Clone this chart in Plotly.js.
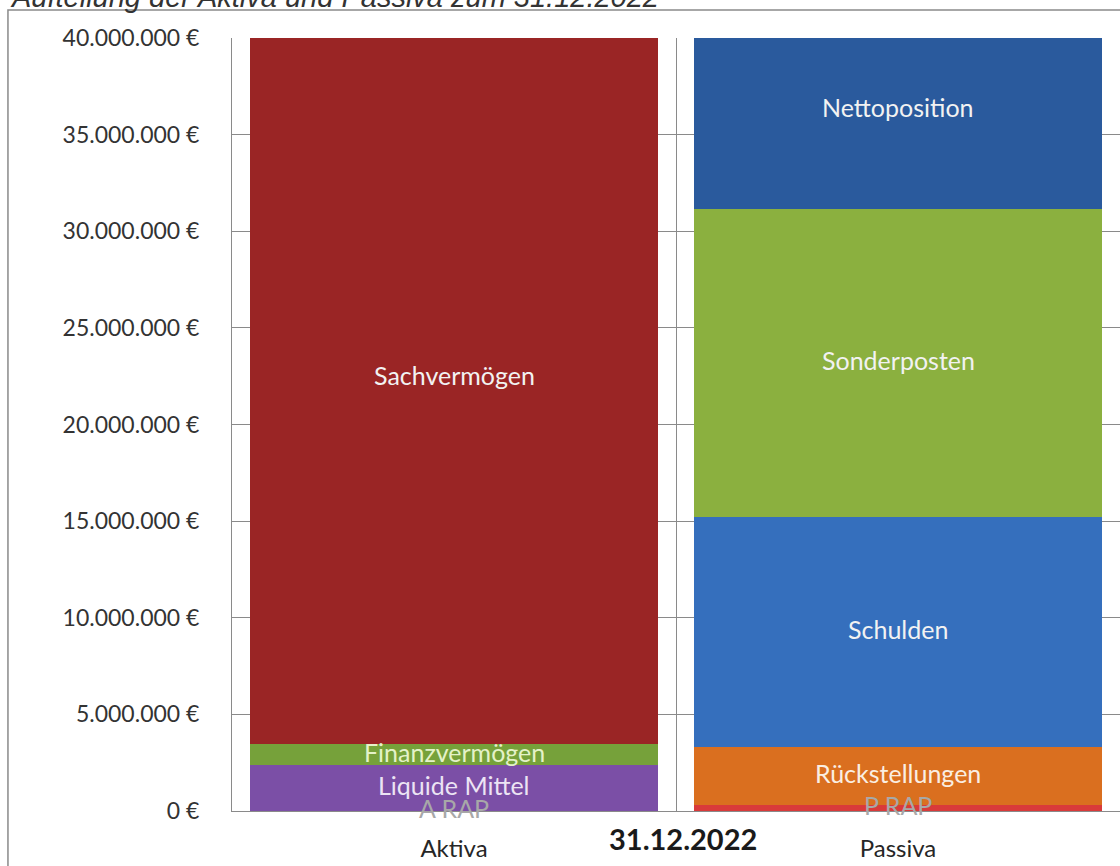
<!DOCTYPE html>
<html>
<head>
<meta charset="utf-8">
<script src="https://cdn.plot.ly/plotly-3.0.1.min.js"></script>
<style>html,body{margin:0;padding:0;background:#fff;}#chart{width:1120px;height:866px;}</style>
</head>
<body>
<div id="chart"></div>
<script>
const categories = ['Aktiva', 'Passiva'];
const aktivaLabels = ['A RAP', 'Liquide Mittel', 'Finanzvermögen', 'Sachvermögen'];
const aktivaValues = [50000, 2330000, 1070000, 37950000];
const aktivaColors = ['#7b4fa6', '#7b4fa6', '#76a13a', '#9a2525'];
const aktivaTextColors = ['#a8a8a8', '#ece4f4', '#e4f2c8', '#f2f2f2'];
const passivaLabels = ['P RAP', 'Rückstellungen', 'Schulden', 'Sonderposten', 'Nettoposition'];
const passivaValues = [300000, 3030000, 11880000, 15940000, 10250000];
const passivaColors = ['#d93a3a', '#da6f1f', '#356fbd', '#8bb03f', '#2a5a9d'];
const passivaTextColors = ['#a8a8a8', '#faeee2', '#f2f2f2', '#f2f2f2', '#f2f2f2'];
const yTickVals = [0, 5000000, 10000000, 15000000, 20000000, 25000000, 30000000, 35000000, 40000000];
const yTickText = ['0 €', '5.000.000 €', '10.000.000 €', '15.000.000 €', '20.000.000 €', '25.000.000 €', '30.000.000 €', '35.000.000 €', '40.000.000 €'];
const chartTitle = 'Aufteilung der Aktiva und Passiva zum 31.12.2022';
const axisTitle = '31.12.2022';

const traces = [];
const annotations = [];
function addSide(cat, labels, values, colors, textColors) {
  let base = 0;
  labels.forEach((lab, i) => {
    traces.push({
      type: 'bar', x: [cat], y: [values[i]], name: lab,
      marker: {color: colors[i], line: {width: 0}},
      hoverinfo: 'name+y'
    });
    annotations.push({
      xref: 'x', yref: 'y', x: cat, y: base + values[i] / 2,
      text: lab, showarrow: false, yshift: 3,
      font: {family: 'Lato, sans-serif', size: 25, color: textColors[i]}
    });
    base += values[i];
  });
}
addSide(categories[0], aktivaLabels, aktivaValues, aktivaColors, aktivaTextColors);
addSide(categories[1], passivaLabels, passivaValues, passivaColors, passivaTextColors);

annotations.push({
  xref: 'paper', yref: 'paper', x: 0.508, y: -0.035, yanchor: 'middle',
  text: '<b>' + axisTitle + '</b>', showarrow: false,
  font: {family: 'Lato, sans-serif', size: 29, color: '#1a1a1a'}
});
annotations.push({
  xref: 'paper', yref: 'paper', x: -0.2523, xanchor: 'left', y: 1.053, yanchor: 'middle',
  text: '<i>' + chartTitle + '</i>', showarrow: false,
  font: {family: 'Liberation Sans, Arial, sans-serif', size: 29, color: '#333333'}
});

const layout = {
  width: 1120, height: 866,
  margin: {l: 232, r: 0, t: 38, b: 55, pad: 0},
  paper_bgcolor: '#ffffff', plot_bgcolor: '#ffffff',
  barmode: 'stack', bargap: 0.08,
  showlegend: false,
  xaxis: {
    type: 'category', range: [-0.5, 1.5], tickson: 'boundaries',
    showgrid: true, gridcolor: '#8a8a8a', gridwidth: 1,
    showline: true, linecolor: '#8a8a8a', linewidth: 1,
    ticks: '', ticklabelstandoff: 16,
    tickfont: {family: 'Lato, sans-serif', size: 24, color: '#262626'},
    zeroline: false
  },
  yaxis: {
    range: [0, 40000000], tickmode: 'array', tickvals: yTickVals, ticktext: yTickText,
    showgrid: true, gridcolor: '#8a8a8a', gridwidth: 1,
    showline: true, linecolor: '#8a8a8a', linewidth: 1,
    ticks: '', ticklabelstandoff: 27,
    tickfont: {family: 'Lato, sans-serif', size: 23, color: '#333333'},
    zeroline: false
  },
  shapes: [{
    type: 'rect', xref: 'paper', yref: 'paper',
    x0: -0.2523, x1: 1.2, y0: -0.2, y1: 1.0362,
    line: {color: '#8a8a8a', width: 1.5}, fillcolor: 'rgba(0,0,0,0)', layer: 'below'
  }],
  annotations: annotations
};
Plotly.newPlot('chart', traces, layout, {displayModeBar: false, staticPlot: true});
</script>
</body>
</html>
